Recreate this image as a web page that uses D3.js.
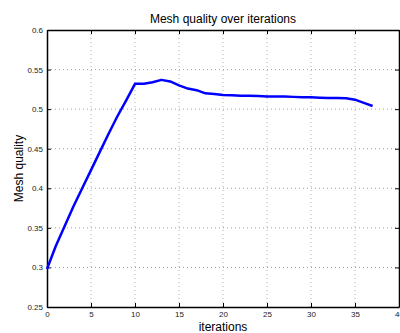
<!DOCTYPE html>
<html>
<head>
<meta charset="UTF-8">
<script src="https://d3js.org/d3.v7.min.js"></script>
<style>
  body { margin: 0; background: #fff; font-family: "Liberation Sans", Arial, sans-serif; }
</style>
</head>
<body>
<svg width="400" height="333"></svg>
<script>
// iterations and mesh quality
const iterations = d3.range(0, 38);
const quality = [0.298, 0.327, 0.352, 0.377, 0.400, 0.423, 0.446, 0.469, 0.491, 0.511,
                 0.532, 0.532, 0.534, 0.537, 0.535, 0.530, 0.526, 0.524, 0.520, 0.519,
                 0.518, 0.5175, 0.517, 0.517, 0.5165, 0.516, 0.516, 0.516, 0.5155, 0.515,
                 0.515, 0.5145, 0.514, 0.514, 0.5138, 0.512, 0.508, 0.504];
const xTicks = [0, 5, 10, 15, 20, 25, 30, 35, 40];
const yTicks = [0.25, 0.3, 0.35, 0.4, 0.45, 0.5, 0.55, 0.6];

const svg = d3.select("svg");
const margin = {top: 30, right: 1, bottom: 26, left: 47};
const width = 400 - margin.left - margin.right,
      height = 333 - margin.top - margin.bottom;

const g = svg.append("g").attr("transform", `translate(${margin.left},${margin.top})`);

const x = d3.scaleLinear().domain([0, 40]).range([0, width]);
const y = d3.scaleLinear().domain([0.25, 0.6]).range([height, 0]);

// grid
g.selectAll(".vgrid").data(xTicks.slice(1, -1)).enter().append("line")
  .attr("x1", d => x(d)).attr("x2", d => x(d)).attr("y1", 0).attr("y2", height)
  .attr("stroke", "#b0b0b0").attr("stroke-width", 1).attr("stroke-dasharray", "1,3");
g.selectAll(".hgrid").data(yTicks.slice(1, -1)).enter().append("line")
  .attr("y1", d => y(d)).attr("y2", d => y(d)).attr("x1", 0).attr("x2", width)
  .attr("stroke", "#a0a0a0").attr("stroke-width", 1).attr("stroke-dasharray", "1,3");

// axes with inward ticks
const xAxis = g.append("g").attr("transform", `translate(0,${height})`)
  .call(d3.axisBottom(x).tickValues(xTicks).tickSizeInner(-4).tickSizeOuter(0).tickPadding(4).tickFormat(d3.format("d")));
const xTop = g.append("g")
  .call(d3.axisTop(x).tickValues(xTicks).tickSizeInner(-4).tickSizeOuter(0).tickFormat(""));
const yAxis = g.append("g")
  .call(d3.axisLeft(y).tickValues(yTicks).tickSizeInner(-4).tickSizeOuter(0).tickPadding(4).tickFormat(d => String(+d.toFixed(2))));
const yRight = g.append("g").attr("transform", `translate(${width},0)`)
  .call(d3.axisRight(y).tickValues(yTicks).tickSizeInner(-4).tickSizeOuter(0).tickFormat(""));

[xAxis, xTop, yAxis, yRight].forEach(a => {
  a.select(".domain").attr("stroke", "#000").attr("stroke-width", 1.5);
  a.selectAll(".tick line").attr("stroke", "#000");
  a.selectAll(".tick text").attr("font-size", 8).attr("fill", "#222")
    .attr("font-family", "Liberation Sans, Arial, sans-serif");
});

// line
const line = d3.line().x((d, i) => x(iterations[i])).y(d => y(d));
g.append("path").datum(quality)
  .attr("fill", "none").attr("stroke", "#0000ff").attr("stroke-width", 2.5)
  .attr("stroke-linejoin", "round")
  .attr("d", line);

// labels
svg.append("text").attr("x", margin.left + width / 2).attr("y", 23)
  .attr("text-anchor", "middle").attr("font-size", 12).text("Mesh quality over iterations");
svg.append("text").attr("x", margin.left + width / 2).attr("y", 331)
  .attr("text-anchor", "middle").attr("font-size", 12).text("iterations");
svg.append("text").attr("transform", `translate(23,${margin.top + height / 2}) rotate(-90)`)
  .attr("text-anchor", "middle").attr("font-size", 12).text("Mesh quality");
</script>
</body>
</html>
